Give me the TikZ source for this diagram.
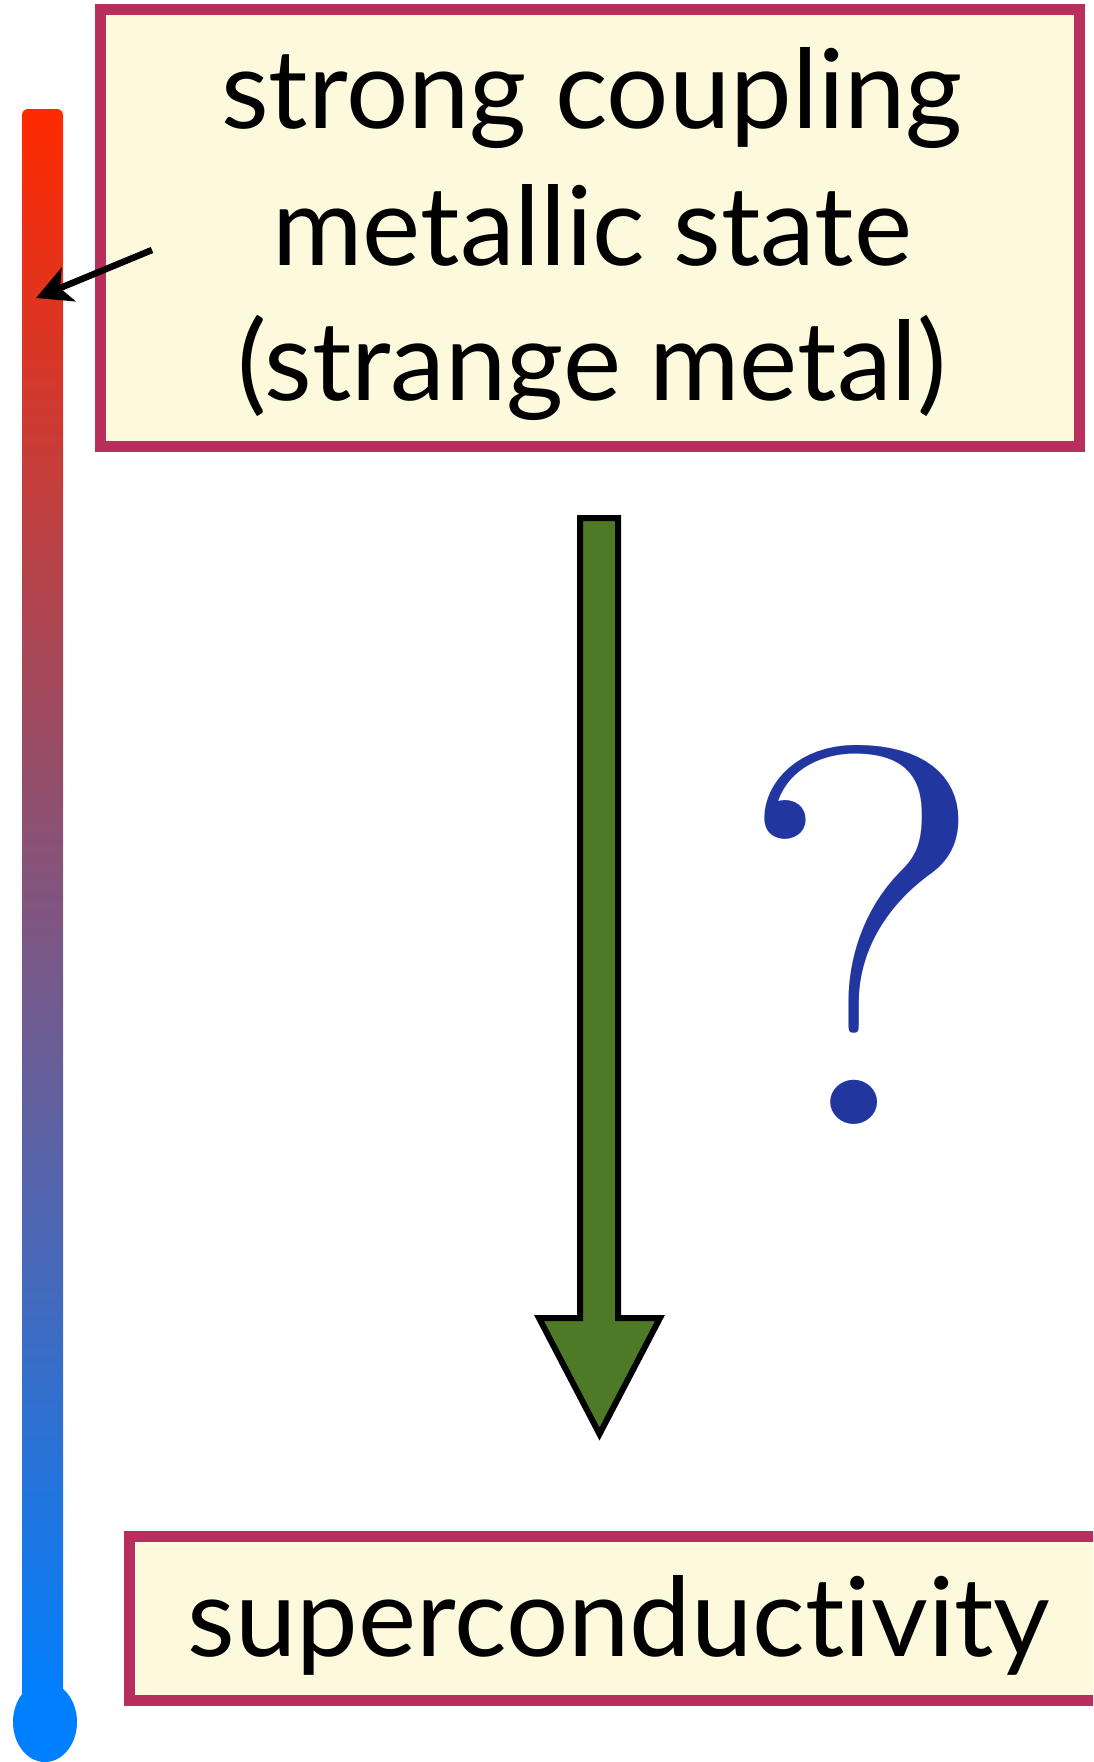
\documentclass[tikz,border=0pt]{standalone}
\usepackage{fontspec}
\newfontfamily\labelfont[Ligatures=NoCommon]{Lato}
\usetikzlibrary{arrows.meta}
\definecolor{boxfill}{HTML}{FDF9DC}
\definecolor{boxedge}{HTML}{B82E5C}
\definecolor{arrowgreen}{HTML}{4E7A28}
\definecolor{qblue}{HTML}{2236A0}
\definecolor{hot}{HTML}{FF2A00}
\definecolor{cold}{HTML}{0080FF}
\tikzset{
  statebox/.style={draw=boxedge, fill=boxfill, line width=11pt, inner sep=0pt, outer sep=0pt},
  toptext/.style={font=\labelfont\fontsize{110}{136}\selectfont, anchor=base, inner sep=0pt},
  bottext/.style={font=\labelfont\fontsize{110}{136}\selectfont, anchor=base, inner sep=0pt},
  pointer/.style={line width=6.5pt, -{Stealth[length=35pt, width=36pt, inset=9pt]}},
  blockarrow/.style={line width=6pt, fill=arrowgreen, draw=black, line join=miter},
}
\begin{document}
\begin{tikzpicture}[x=1pt, y=-1pt]
\useasboundingbox (0,0) rectangle (1093,1762);
\clip (0,0) rectangle (1093,1762);
% thermometer
\node[rectangle, rounded corners=6pt, top color=hot, bottom color=cold,
      minimum width=41pt, minimum height=1600pt, inner sep=0pt] (bar) at (42.5,909) {};
\fill[cold] (45,1722) ellipse [x radius=32, y radius=40];
% top box
\node[statebox, minimum width=979pt, minimum height=437pt] (top) at (590,227.5) {};
\node[toptext] (t1) at (592,128) {strong coupling};
\node[toptext] (t2) at (592,265) {metallic state};
\node[toptext] (t3) at (592,400) {(strange metal)};
% pointer arrow
\coordinate (arrtail) at (152,250);
\coordinate (arrtip) at (36,298);
\draw[pointer] (arrtail) -- (arrtip);
% green block arrow
\draw[blockarrow] (580,518) -- (618,518) -- (618,1318) -- (660,1318) -- (599.5,1434)
  -- (539,1318) -- (580,1318) -- cycle;
% question mark
\node[text=qblue, font=\fontsize{540}{540}\selectfont, anchor=base, inner sep=0pt, xscale=1.06] (q) at (862,1124) {?};
% bottom box
\node[statebox, minimum width=980.5pt, minimum height=164.5pt] (bot) at (619.75,1618.25) {};
\node[bottext] (b1) at (619,1656) {superconductivity};
\end{tikzpicture}
\end{document}
